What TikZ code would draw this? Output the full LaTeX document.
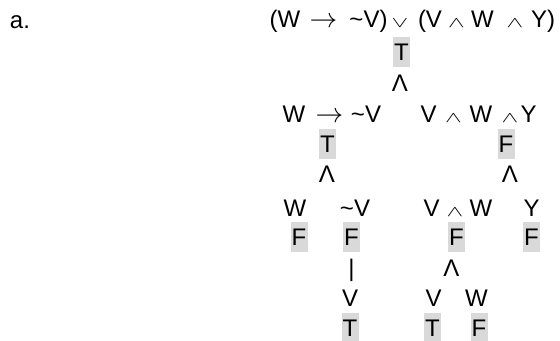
\documentclass[tikz,border=0pt]{standalone}
\usepackage{fontspec}
\setmainfont{Liberation Sans}
\definecolor{hl}{RGB}{217,217,217}
\newcommand{\wedgeop}{\scalebox{1.3}[0.8]{\fontsize{14}{14}\selectfont$\wedge$}}
\newcommand{\veeop}{\scalebox{1.3}[0.8]{\fontsize{14}{14}\selectfont$\vee$}}
\newcommand{\arrowop}{{\fontsize{20}{20}\selectfont$\rightarrow$}}
\begin{document}
\begin{tikzpicture}[x=0.75pt,y=-0.75pt,
  txt/.style={font=\fontsize{18}{18}\selectfont, inner sep=0pt, anchor=base},
  op/.style={inner sep=0pt, anchor=base},
  val/.style={font=\fontsize{18}{18}\selectfont, inner sep=0pt, fill=hl,
              minimum width=12.75pt, minimum height=22.5pt, anchor=center},
]
\useasboundingbox (0,0) rectangle (560,341);
% label
\node[txt] (lbl) at (20,29) {a.};
% row 1: formula
\node[txt] (f1) at (285,28) {(W};
\node[op]  (f2) at (323.5,28) {\arrowop};
\node[txt] (f3) at (368.5,28) {\textasciitilde V)};
\node[op]  (f4) at (400,28) {\veeop};
\node[txt] (f5) at (430,28) {(V};
\node[op]  (f6) at (456.5,28) {\wedgeop};
\node[txt] (f7) at (482.5,28) {W};
\node[op]  (f8) at (515,28) {\wedgeop};
\node[txt] (f9) at (543,28) {Y)};
% row 2
\node[val] (v1) at (401.5,52) {T};
% row 3
\node[txt] (b1) at (400,92) {Λ};
% row 4
\node[txt] (l1) at (294,123) {W};
\node[op]  (l2) at (329.5,123) {\arrowop};
\node[txt] (l3) at (366,123) {\textasciitilde V};
\node[txt] (r1) at (428.5,123) {V};
\node[op]  (r2) at (453.5,123) {\wedgeop};
\node[txt] (r3) at (481,123) {W};
\node[op]  (r4) at (510,123) {\wedgeop};
\node[txt] (r5) at (528.5,123) {Y};
% row 5
\node[val] (v2) at (327.5,144) {T};
\node[val] (v3) at (506,144) {F};
% row 6
\node[txt] (b2) at (327,183) {Λ};
\node[txt] (b3) at (510,183) {Λ};
% row 7
\node[txt] (m1) at (295,217) {W};
\node[txt] (m2) at (355,217) {\textasciitilde V};
\node[txt] (m3) at (431.5,217) {V};
\node[op]  (m4) at (455,217) {\wedgeop};
\node[txt] (m5) at (481,217) {W};
\node[txt] (m6) at (531.5,217) {Y};
% row 8
\node[val] (v4) at (299,237.5) {F};
\node[val] (v5) at (351.5,237.5) {F};
\node[val] (v6) at (456.5,237.5) {F};
\node[val] (v7) at (531.5,237.5) {F};
% row 9
\node[txt] (b4) at (351.5,277) {|};
\node[txt] (b5) at (451.5,277) {Λ};
% row 10
\node[txt] (n1) at (350,307) {V};
\node[txt] (n2) at (433.5,307) {V};
\node[txt] (n3) at (476.5,307) {W};
% row 11
\node[val] (v8) at (350,328) {T};
\node[val] (v9) at (432.5,328) {T};
\node[val] (v10) at (479,328) {F};
\end{tikzpicture}
\end{document}
